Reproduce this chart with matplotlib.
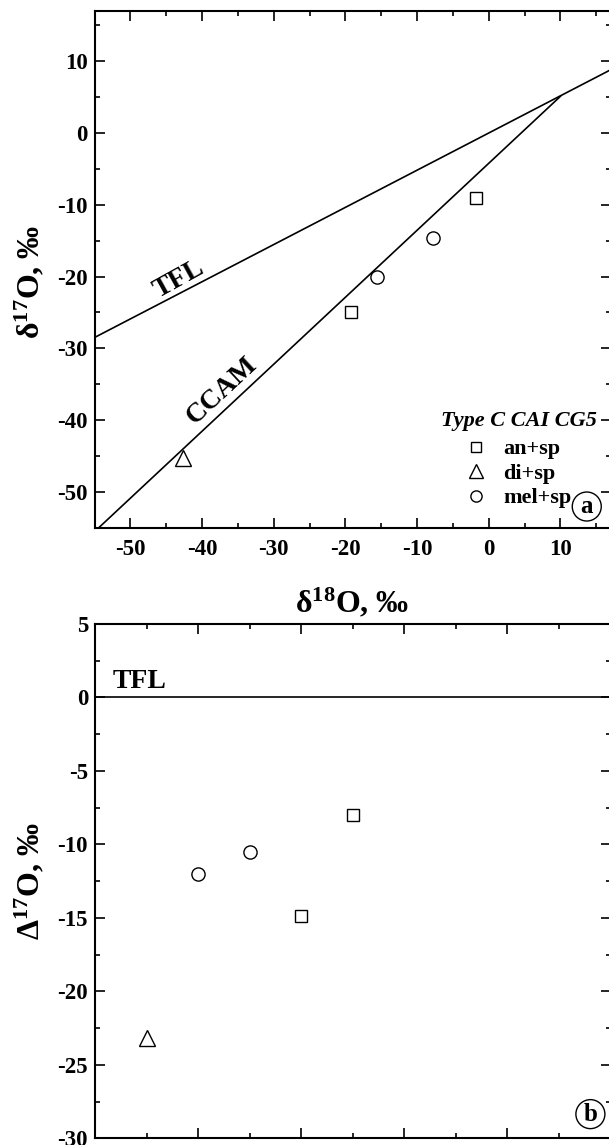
import matplotlib
matplotlib.use("Agg")
import matplotlib.pyplot as plt
from matplotlib.ticker import MultipleLocator, NullFormatter

plt.rcParams['font.family'] = ['Liberation Serif', 'DejaVu Serif']
plt.rcParams['font.weight'] = 'bold'
plt.rcParams['mathtext.fontset'] = 'custom'
plt.rcParams['mathtext.rm'] = 'Liberation Serif'
plt.rcParams['mathtext.it'] = 'Liberation Serif:italic'
plt.rcParams['mathtext.bf'] = 'Liberation Serif:bold'

# ---- data (panel a: delta18O vs delta17O) ----
groups = ["an+sp", "di+sp", "mel+sp"]
markers = ["s", "^", "o"]
an_d18 = [-19.2, -1.7]
an_d17 = [-24.9, -9.0]
di_d18 = [-42.7]
di_d17 = [-45.3]
mel_d18 = [-15.6, -7.7]
mel_d17 = [-20.05, -14.6]

tfl_d18 = [-55.0, 17.0]
tfl_d17 = [-28.5, 8.8]
ccam_d18 = [-54.4, 10.0]
ccam_d17 = [-55.0, 5.1]

# ---- data (panel b: Delta17O by analysis number) ----
an_idx = [4, 5]
an_D17 = [-14.85, -8.0]
di_idx = [1]
di_D17 = [-23.2]
mel_idx = [2, 3]
mel_D17 = [-12.0, -10.5]
tfl_b_idx = [0, 10]
tfl_b_D17 = [0, 0]

W, H = 609, 1145
fig = plt.figure(figsize=(W / 100, H / 100), dpi=100)

def px_axes(l, t, r, b):
    return fig.add_axes([l / W, 1 - b / H, (r - l) / W, (b - t) / H])

ax1 = px_axes(94.5, 11, 610.5, 527.7)
ax2 = px_axes(95, 624, 610.5, 1138.3)

def style(ax, fs=16.5):
    for s in ax.spines.values():
        s.set_linewidth(1.5)
    ax.tick_params(which='both', direction='in', top=True, right=True, width=1.2)
    ax.tick_params(which='major', length=7, labelsize=fs, pad=5)
    ax.tick_params(which='minor', length=3.5)
    for lab in ax.get_xticklabels() + ax.get_yticklabels():
        lab.set_fontweight('bold')

ms = {"s": 8.6, "^": 12, "o": 9.5}
mkw = dict(linestyle='none', mfc='white', mec='black', mew=1.0)

# ---- panel a ----
ax1.plot(tfl_d18, tfl_d17, color='black', lw=1.2, zorder=2)
ax1.plot(ccam_d18, ccam_d17, color='black', lw=1.2, zorder=2)
h_an, = ax1.plot(an_d18, an_d17, marker='s', ms=ms['s'], label=groups[0], zorder=3, **mkw)
h_di, = ax1.plot(di_d18, di_d17, marker='^', ms=ms['^'], label=groups[1], zorder=3, **mkw)
h_mel, = ax1.plot(mel_d18, mel_d17, marker='o', ms=ms['o'], label=groups[2], zorder=3, **mkw)

ax1.set_xlim(-55, 17)
ax1.set_ylim(-55, 17)
ax1.xaxis.set_minor_locator(MultipleLocator(5))
ax1.yaxis.set_minor_locator(MultipleLocator(5))
ax1.set_xticks([-50, -40, -30, -20, -10, 0, 10])
ax1.set_xticklabels(['-50', '-40', '-30', '-20', '-10', '0', '10'])
ax1.set_yticks([-50, -40, -30, -20, -10, 0, 10])
ax1.set_yticklabels(['-50', '-40', '-30', '-20', '-10', '0', '10'])
style(ax1)
ax1.tick_params(axis='x', pad=8)

ax1.set_xlabel(r'$\mathrm{\delta^{18}}$O, ‰', fontsize=23, fontweight='bold')
ax1.xaxis.set_label_coords(0.5, -0.112)
ax1.set_ylabel(r'$\mathrm{\delta^{17}}$O, ‰', fontsize=23, fontweight='bold')
ax1.yaxis.set_label_coords(-0.094, 0.475)

ax1.text(-42.3, -21.9, 'TFL', fontsize=20, fontweight='bold', rotation=29,
         ha='center', va='bottom', rotation_mode='anchor')
ax1.text(-36.0, -37.2, 'CCAM', fontsize=20, fontweight='bold', rotation=43,
         ha='center', va='bottom', rotation_mode='anchor')

ax1.text(0.974, 0.226, 'Type C CAI CG5', transform=ax1.transAxes, fontsize=16,
         fontweight='bold', fontstyle='italic', ha='right', va='top')
leg = ax1.legend(handles=[h_an, h_di, h_mel], loc='upper left',
                 bbox_to_anchor=(0.714, 0.172), frameon=False, fontsize=16,
                 markerscale=0.85, borderpad=0,
                 borderaxespad=0, labelspacing=0.18, handletextpad=0.6,
                 handlelength=1.2)
for t in leg.get_texts():
    t.set_fontweight('bold')

ax1.text(0.954, 0.041, 'a', transform=ax1.transAxes, fontsize=18, fontweight='bold',
         ha='center', va='center',
         bbox=dict(boxstyle='circle,pad=0.12', fc='white', ec='black', lw=1.0))

# ---- panel b ----
ax2.plot(tfl_b_idx, tfl_b_D17, color='black', lw=1.2, zorder=2)
ax2.plot(an_idx, an_D17, marker='s', ms=ms['s'] * 0.95, zorder=3, **mkw)
ax2.plot(di_idx, di_D17, marker='^', ms=ms['^'], zorder=3, **mkw)
ax2.plot(mel_idx, mel_D17, marker='o', ms=ms['o'], zorder=3, **mkw)
ax2.set_xlim(0, 10)
ax2.set_ylim(-30, 5)
ax2.xaxis.set_major_locator(MultipleLocator(2))
ax2.xaxis.set_minor_locator(MultipleLocator(1))
ax2.xaxis.set_major_formatter(NullFormatter())
ax2.set_yticks([-30, -25, -20, -15, -10, -5, 0, 5])
ax2.set_yticklabels(['-30', '-25', '-20', '-15', '-10', '-5', '0', '5'])
ax2.yaxis.set_minor_locator(MultipleLocator(2.5))
style(ax2)
ax2.set_ylabel(r'$\mathrm{\Delta^{17}}$O, ‰', fontsize=23, fontweight='bold')
ax2.yaxis.set_label_coords(-0.094, 0.5)

ax2.text(0.34, 0.25, 'TFL', fontsize=20, fontweight='bold', ha='left', va='bottom')
ax2.text(0.961, 0.047, 'b', transform=ax2.transAxes, fontsize=18, fontweight='bold',
         ha='center', va='center',
         bbox=dict(boxstyle='circle,pad=0.12', fc='white', ec='black', lw=1.0))

fig.savefig('out.png', dpi=100)
